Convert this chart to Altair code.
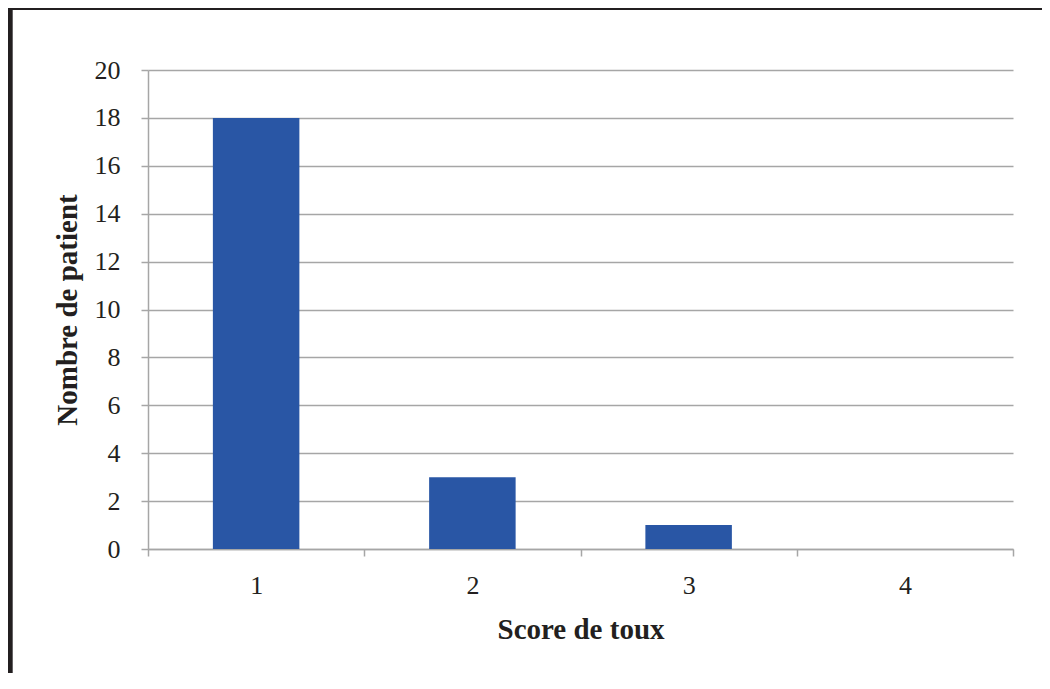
import altair as alt
import pandas as pd

scores = ["1", "2", "3", "4"]
patients = [18, 3, 1, 0]
y_ticks = [0, 2, 4, 6, 8, 10, 12, 14, 16, 18, 20]

df = pd.DataFrame({"score": scores, "patients": patients})

FONT = "Liberation Serif"
GRID = "#A6A6A6"

bars = alt.Chart(df).mark_bar(color="#2956A5", width=alt.RelativeBandSize(0.4)).encode(
    x=alt.X("score:N", sort=scores, title="Score de toux",
            scale=alt.Scale(paddingInner=0, paddingOuter=0),
            axis=alt.Axis(labelAngle=0, tickBand="extent", labelPadding=16,
                          titlePadding=17)),
    y=alt.Y("patients:Q", title="Nombre de patient",
            scale=alt.Scale(domain=[0, 20]),
            axis=alt.Axis(values=y_ticks, grid=True, labelPadding=21, titlePadding=12)),
)

frame = alt.Chart(df).mark_rect(fill=None, stroke="#231F20", strokeWidth=5.5).encode(
    x=alt.value(-138.5), x2=alt.value(960),
    y=alt.value(-63), y2=alt.value(680),
)

chart = alt.layer(bars, frame).properties(
    width=865, height=479,
    autosize=alt.AutoSizeParams(type="none"),
    padding={"left": 140, "top": 62, "right": 29, "bottom": 124},
).configure_view(stroke=None).configure_axis(
    labelFont=FONT, titleFont=FONT, labelFontSize=26, titleFontSize=29,
    labelColor="#231F20", titleColor="#231F20", titleFontWeight="bold",
    domainColor=GRID, tickColor=GRID, gridColor=GRID, domainWidth=1.5,
    tickWidth=1.5, gridWidth=1.5, tickSize=7,
)

chart.save("out.html", embed_options={"renderer": "svg", "actions": False})
